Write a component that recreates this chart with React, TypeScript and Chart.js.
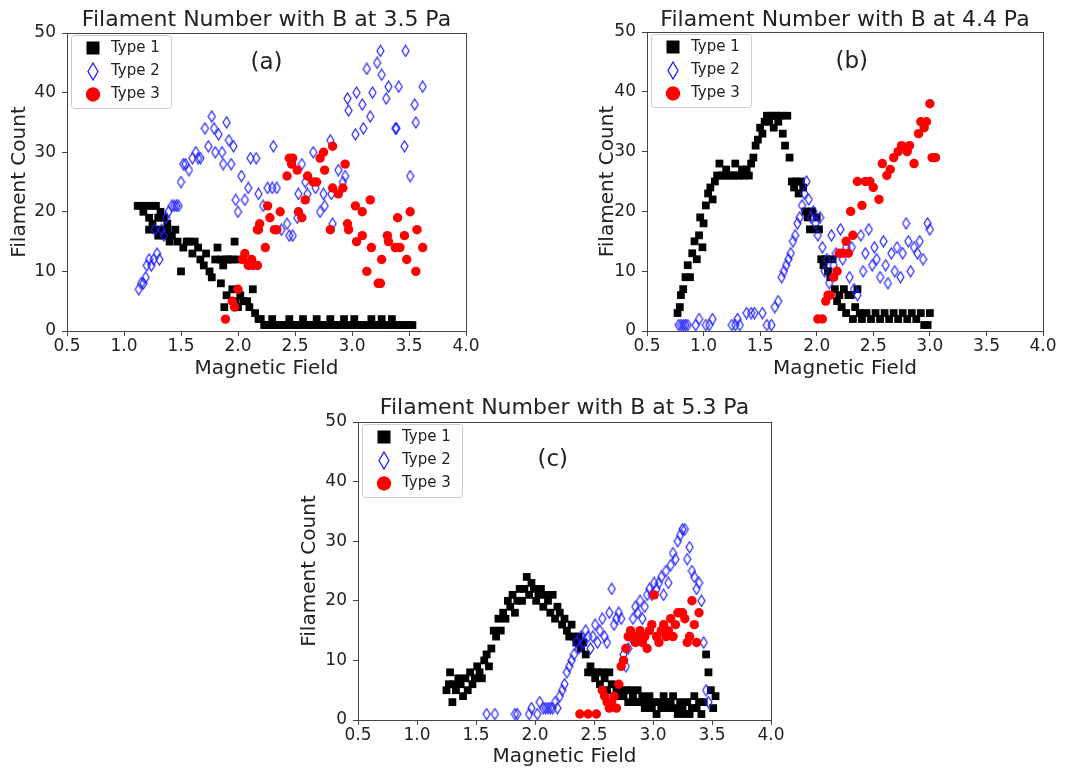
import React, { useEffect, useRef } from 'react';
import { Chart, registerables } from 'chart.js';

Chart.register(...registerables);

type Pt = [number, number];

// Axis ticks shared by the three panels
const xTicks = [0.5, 1.0, 1.5, 2.0, 2.5, 3.0, 3.5, 4.0];
const yTicks = [0, 10, 20, 30, 40, 50];
const seriesNames = ['Type 1', 'Type 2', 'Type 3'];

// Panel (a): B at 3.5 Pa
const type1A: Pt[] = [
  [1.12, 21], [1.15, 21], [1.17, 20], [1.2, 21], [1.22, 19], [1.25, 21], [1.28, 21], [1.3, 19], [1.32, 20], [1.35, 19], [1.38, 18],
  [1.22, 17], [1.25, 18], [1.28, 17], [1.3, 16], [1.33, 17], [1.36, 16], [1.38, 17], [1.4, 15], [1.42, 16], [1.45, 17], [1.47, 15],
  [1.5, 10], [1.52, 14], [1.55, 15], [1.57, 15], [1.6, 13], [1.62, 15], [1.65, 14], [1.67, 12], [1.7, 11], [1.72, 13], [1.75, 10],
  [1.77, 9], [1.8, 12], [1.82, 14], [1.85, 12], [1.87, 11], [1.9, 12], [1.92, 12], [1.95, 12], [1.97, 15], [2.0, 12],
  [1.85, 8], [1.9, 6], [1.88, 4], [1.95, 7], [1.98, 5], [2.0, 4], [2.02, 6], [2.05, 5], [2.08, 5], [2.1, 4], [2.13, 7], [2.15, 3],
  [2.18, 2], [2.2, 2], [2.23, 1],
  [2.25, 1], [2.28, 1], [2.3, 2], [2.33, 1], [2.36, 1], [2.39, 1], [2.42, 1], [2.45, 2], [2.48, 1], [2.51, 1], [2.54, 1], [2.57, 2],
  [2.6, 1], [2.63, 1], [2.66, 1], [2.69, 2], [2.72, 1], [2.75, 1], [2.78, 1], [2.81, 2], [2.84, 1], [2.87, 1], [2.9, 1], [2.93, 2],
  [2.96, 1], [2.99, 1], [3.02, 2], [3.05, 1], [3.08, 1], [3.11, 1], [3.14, 1], [3.17, 2], [3.2, 1], [3.23, 1], [3.26, 2], [3.29, 1],
  [3.32, 1], [3.35, 2], [3.38, 1], [3.41, 1], [3.44, 1], [3.47, 1], [3.5, 1], [3.53, 1],
];
const type2A: Pt[] = [
  [1.13, 7], [1.15, 8], [1.17, 8], [1.19, 9], [1.2, 11], [1.22, 12], [1.24, 11], [1.26, 12], [1.27, 17], [1.29, 13], [1.31, 12],
  [1.33, 17], [1.35, 16], [1.37, 19], [1.39, 20], [1.42, 21], [1.44, 21], [1.46, 21], [1.48, 21],
  [1.5, 25], [1.52, 28], [1.54, 28], [1.57, 27], [1.6, 29], [1.63, 30], [1.65, 29], [1.67, 29], [1.71, 34], [1.74, 31], [1.77, 36],
  [1.79, 34], [1.8, 30], [1.83, 33], [1.86, 30], [1.87, 28], [1.9, 35], [1.92, 32], [1.94, 28], [1.96, 31],
  [1.98, 22], [2.0, 20], [2.03, 26], [2.06, 22], [2.09, 24], [2.11, 29], [2.16, 29], [2.18, 23], [2.22, 21], [2.26, 24], [2.3, 24],
  [2.31, 31], [2.34, 24], [2.38, 17], [2.43, 18], [2.45, 16], [2.48, 16], [2.52, 19], [2.53, 23], [2.56, 28], [2.59, 25], [2.61, 23],
  [2.66, 30], [2.68, 24], [2.72, 20], [2.75, 23], [2.76, 21], [2.81, 32], [2.82, 23], [2.83, 18], [2.88, 27], [2.92, 25], [2.94, 26],
  [2.96, 39], [2.97, 37], [3.03, 33], [3.04, 40], [3.09, 38], [3.1, 34], [3.13, 44], [3.16, 36], [3.18, 40], [3.22, 45], [3.25, 47],
  [3.26, 43], [3.3, 39], [3.32, 41], [3.38, 34], [3.39, 34], [3.41, 41], [3.46, 31], [3.47, 47], [3.51, 26], [3.55, 38], [3.56, 35],
  [3.62, 41],
];
const type3A: Pt[] = [
  [1.89, 2], [1.95, 5], [1.97, 4], [2.0, 7], [2.04, 12], [2.06, 13], [2.09, 11], [2.13, 11], [2.12, 12], [2.17, 11], [2.17, 17],
  [2.18, 17], [2.19, 18], [2.24, 14], [2.26, 21], [2.28, 19], [2.32, 17], [2.34, 17], [2.37, 20], [2.43, 26], [2.45, 29], [2.47, 28],
  [2.48, 29], [2.52, 27], [2.53, 20], [2.56, 19], [2.59, 22], [2.61, 26], [2.66, 25], [2.69, 25], [2.72, 29], [2.75, 30], [2.76, 27],
  [2.81, 17], [2.83, 24], [2.83, 31], [2.88, 23], [2.92, 24], [2.94, 28], [2.96, 18], [2.97, 17], [3.03, 21], [3.04, 15], [3.09, 20],
  [3.09, 16], [3.13, 10], [3.16, 22], [3.17, 14], [3.23, 8], [3.25, 8], [3.26, 12], [3.31, 16], [3.32, 15], [3.38, 14], [3.4, 19],
  [3.42, 14], [3.46, 16], [3.48, 12], [3.51, 20], [3.56, 10], [3.57, 17], [3.62, 14],
];

// Panel (b): B at 4.4 Pa
const type1B: Pt[] = [
  [0.77, 3], [0.79, 4], [0.8, 6], [0.82, 7], [0.84, 9], [0.86, 11], [0.88, 9], [0.9, 13], [0.92, 15], [0.94, 12], [0.96, 16],
  [0.97, 19], [0.99, 14], [1.0, 18], [1.02, 21], [1.04, 23], [1.06, 24], [1.08, 22], [1.1, 25], [1.12, 26], [1.14, 28], [1.16, 26],
  [1.18, 26], [1.2, 27], [1.22, 26], [1.24, 26], [1.26, 26], [1.28, 28], [1.3, 26], [1.32, 26], [1.34, 27], [1.36, 26], [1.38, 27],
  [1.4, 26], [1.42, 28], [1.44, 29], [1.46, 31], [1.48, 32], [1.5, 34], [1.52, 33], [1.54, 35], [1.56, 36], [1.58, 35], [1.6, 36],
  [1.62, 34], [1.64, 36], [1.66, 35], [1.68, 36], [1.7, 33], [1.72, 31], [1.74, 36], [1.76, 29], [1.78, 25], [1.8, 24], [1.82, 25],
  [1.84, 23], [1.86, 25], [1.88, 24], [1.9, 20], [1.92, 19], [1.94, 17], [1.96, 20], [1.98, 17], [2.0, 19], [2.02, 17], [2.04, 12],
  [2.06, 11], [2.08, 12], [2.1, 10], [2.12, 9], [2.14, 12], [2.16, 7], [2.18, 5], [2.2, 6], [2.22, 4], [2.24, 7], [2.26, 3],
  [2.28, 6], [2.3, 6], [2.32, 2], [2.34, 4], [2.36, 7], [2.38, 3], [2.4, 2], [2.44, 3], [2.48, 2], [2.52, 3], [2.56, 2], [2.6, 3],
  [2.64, 2], [2.68, 3], [2.72, 2], [2.76, 3], [2.8, 2], [2.84, 3], [2.88, 2], [2.92, 3], [2.95, 1], [2.98, 1], [3.0, 3],
];
const type2B: Pt[] = [
  [0.78, 1], [0.8, 1], [0.82, 1], [0.84, 1], [0.86, 1], [0.93, 1], [0.96, 2], [1.02, 1], [1.05, 1], [1.08, 2], [1.25, 1], [1.28, 1],
  [1.3, 2], [1.32, 1], [1.38, 3], [1.42, 3], [1.45, 3], [1.52, 3], [1.56, 1], [1.6, 1], [1.63, 4], [1.66, 5], [1.69, 9], [1.71, 10],
  [1.73, 11], [1.75, 12], [1.77, 13], [1.79, 15], [1.81, 16], [1.83, 18], [1.85, 19], [1.87, 21], [1.89, 23], [1.91, 25], [1.93, 22],
  [1.95, 19], [1.97, 20], [1.99, 18], [2.01, 16], [2.03, 19], [2.05, 14], [2.07, 10], [2.09, 12], [2.11, 8], [2.13, 16], [2.15, 11],
  [2.17, 13], [2.21, 17], [2.23, 12], [2.26, 14], [2.29, 9], [2.31, 14], [2.33, 7], [2.36, 6], [2.39, 16], [2.41, 10], [2.43, 13],
  [2.46, 17], [2.49, 11], [2.51, 14], [2.53, 12], [2.56, 9], [2.59, 15], [2.61, 11], [2.63, 8], [2.66, 13], [2.69, 10], [2.71, 14],
  [2.74, 9], [2.76, 13], [2.79, 18], [2.81, 15], [2.83, 10], [2.86, 14], [2.89, 13], [2.91, 15], [2.94, 12], [2.98, 18], [3.0, 17],
];
const type3B: Pt[] = [
  [2.01, 2], [2.05, 2], [2.08, 5], [2.1, 6], [2.12, 6], [2.15, 9], [2.18, 10], [2.2, 13], [2.23, 13], [2.26, 15], [2.28, 13],
  [2.3, 20], [2.32, 16], [2.36, 25], [2.4, 21], [2.43, 25], [2.47, 25], [2.5, 24], [2.55, 22], [2.58, 28], [2.62, 26], [2.65, 27],
  [2.68, 29], [2.72, 30], [2.75, 31], [2.8, 30], [2.82, 31], [2.86, 28], [2.9, 33], [2.92, 35], [2.95, 34], [2.97, 35], [3.0, 38],
  [3.02, 29], [3.05, 29],
];

// Panel (c): B at 5.3 Pa
const type1C: Pt[] = [
  [1.25, 5], [1.27, 6], [1.28, 8], [1.3, 3], [1.31, 6], [1.33, 5], [1.35, 7], [1.37, 6], [1.39, 4], [1.41, 7], [1.43, 5], [1.45, 8],
  [1.47, 6], [1.49, 7], [1.51, 9], [1.53, 8], [1.55, 7], [1.57, 10], [1.59, 11], [1.61, 9], [1.63, 12], [1.65, 15], [1.67, 14],
  [1.69, 17], [1.71, 15], [1.73, 18], [1.75, 17], [1.77, 20], [1.79, 19], [1.81, 21], [1.83, 18], [1.85, 20], [1.87, 22], [1.89, 20],
  [1.91, 22], [1.93, 24], [1.95, 21], [1.97, 23], [1.99, 22], [2.01, 20], [2.03, 21], [2.05, 22], [2.07, 19], [2.09, 21], [2.11, 20],
  [2.13, 18], [2.15, 21], [2.17, 17], [2.19, 19], [2.21, 18], [2.23, 16], [2.25, 17], [2.27, 15], [2.29, 14], [2.31, 16], [2.33, 14],
  [2.35, 13], [2.37, 14], [2.39, 12], [2.41, 13], [2.43, 11], [2.45, 8], [2.47, 9], [2.49, 8], [2.51, 7], [2.53, 8], [2.55, 6],
  [2.57, 8], [2.59, 7], [2.61, 5], [2.63, 8], [2.65, 6], [2.67, 4], [2.69, 5], [2.71, 4], [2.73, 5], [2.75, 4], [2.77, 5], [2.79, 3],
  [2.81, 5], [2.83, 4], [2.85, 3], [2.87, 5], [2.89, 3], [2.91, 4], [2.93, 2], [2.95, 3], [2.97, 4], [2.99, 2], [3.01, 3], [3.03, 1],
  [3.05, 3], [3.07, 2], [3.09, 4], [3.11, 3], [3.13, 2], [3.15, 3], [3.17, 4], [3.19, 2], [3.21, 1], [3.23, 3], [3.25, 2], [3.27, 1],
  [3.29, 3], [3.31, 1], [3.33, 2], [3.35, 4], [3.37, 2], [3.39, 3], [3.41, 1], [3.43, 3], [3.45, 11], [3.47, 8], [3.49, 5], [3.51, 2],
  [3.53, 4],
];
const type2C: Pt[] = [
  [1.59, 1], [1.66, 1], [1.83, 1], [1.85, 1], [1.95, 1], [1.97, 2], [2.02, 1], [2.04, 3], [2.07, 2], [2.09, 2], [2.11, 2], [2.13, 2],
  [2.15, 2], [2.17, 3], [2.19, 2], [2.21, 4], [2.23, 5], [2.25, 6], [2.27, 8], [2.29, 9], [2.31, 10], [2.33, 11], [2.35, 13],
  [2.37, 12], [2.39, 14], [2.41, 13], [2.43, 15], [2.45, 14], [2.47, 12], [2.49, 14], [2.51, 16], [2.53, 13], [2.55, 15], [2.57, 17],
  [2.59, 14], [2.61, 13], [2.63, 18], [2.65, 22], [2.67, 16], [2.69, 17], [2.71, 18], [2.73, 17], [2.75, 11], [2.77, 9], [2.79, 12],
  [2.81, 14], [2.83, 17], [2.85, 19], [2.87, 18], [2.89, 20], [2.91, 17], [2.93, 19], [2.95, 21], [2.97, 22], [2.99, 21], [3.01, 23],
  [3.03, 22], [3.05, 23], [3.07, 24], [3.09, 21], [3.11, 25], [3.13, 23], [3.15, 26], [3.17, 28], [3.19, 27], [3.21, 30], [3.23, 31],
  [3.25, 32], [3.27, 32], [3.29, 27], [3.31, 29], [3.33, 25], [3.35, 24], [3.37, 22], [3.39, 23], [3.41, 20], [3.43, 13], [3.45, 5],
  [3.47, 3],
];
const type3C: Pt[] = [
  [2.38, 1], [2.45, 1], [2.52, 1], [2.57, 5], [2.59, 4], [2.61, 3], [2.63, 2], [2.65, 3], [2.67, 4], [2.69, 2], [2.71, 6], [2.73, 9],
  [2.75, 10], [2.77, 12], [2.79, 14], [2.81, 15], [2.83, 14], [2.85, 13], [2.87, 14], [2.89, 15], [2.91, 13], [2.93, 14], [2.95, 12],
  [2.97, 15], [2.99, 16], [3.01, 21], [3.03, 14], [3.05, 13], [3.07, 15], [3.09, 16], [3.11, 14], [3.13, 15], [3.15, 17], [3.17, 14],
  [3.19, 16], [3.21, 18], [3.23, 18], [3.25, 18], [3.27, 17], [3.29, 13], [3.31, 14], [3.33, 20], [3.35, 16], [3.37, 13], [3.39, 18],
];

const FONT = "'DejaVu Sans', 'Liberation Sans', sans-serif";
const INK = '#222222';
const FRAME = '#444444';
const BLACK = '#000000';
const BLUE = '#1f1fff';
const RED = '#ff0000';

interface PanelSpec {
  title: string;
  tag: string;
  tagAt: Pt;
  box: { left: number; top: number; width: number; height: number };
  area: { l: number; t: number; r: number; b: number };
  titlePad: { top: number; bottom: number };
  yTitlePad: number;
  xTitlePad: number;
  series: Pt[][];
}

const panels: PanelSpec[] = [
  {
    title: 'Filament Number with B at 3.5 Pa',
    tag: '(a)',
    tagAt: [2.25, 45],
    box: { left: 0, top: 0, width: 540, height: 392 },
    area: { l: 67, t: 33, r: 466, b: 331 },
    titlePad: { top: 9.5, bottom: 1.5 },
    yTitlePad: 8,
    xTitlePad: 11,
    series: [type1A, type2A, type3A],
  },
  {
    title: 'Filament Number with B at 4.4 Pa',
    tag: '(b)',
    tagAt: [2.31, 45],
    box: { left: 560, top: 0, width: 523, height: 392 },
    area: { l: 647, t: 32, r: 1043, b: 331 },
    titlePad: { top: 9, bottom: 1 },
    yTitlePad: 36,
    xTitlePad: 11,
    series: [type1B, type2B, type3B],
  },
  {
    title: 'Filament Number with B at 5.3 Pa',
    tag: '(c)',
    tagAt: [2.15, 43.6],
    box: { left: 280, top: 390, width: 540, height: 381 },
    area: { l: 358, t: 422, r: 771, b: 720 },
    titlePad: { top: 7, bottom: 3 },
    yTitlePad: 18,
    xTitlePad: 2,
    series: [type1C, type2C, type3C],
  },
];

// Thin open diamond used as the Type 2 marker
function diamondSprite(w: number, h: number, color: string, lw: number): HTMLCanvasElement {
  const c = document.createElement('canvas');
  c.width = w + 2;
  c.height = h + 2;
  const g = c.getContext('2d')!;
  g.strokeStyle = color;
  g.lineWidth = lw;
  g.beginPath();
  g.moveTo(c.width / 2, 1);
  g.lineTo(c.width - 1, c.height / 2);
  g.lineTo(c.width / 2, c.height - 1);
  g.lineTo(1, c.height / 2);
  g.closePath();
  g.stroke();
  return c;
}

function drawLegendMarker(ctx: CanvasRenderingContext2D, kind: number, x: number, y: number) {
  ctx.save();
  if (kind === 0) {
    ctx.fillStyle = BLACK;
    ctx.fillRect(x - 6.5, y - 6.5, 13, 13);
  } else if (kind === 1) {
    ctx.strokeStyle = BLUE;
    ctx.lineWidth = 1.3;
    ctx.beginPath();
    ctx.moveTo(x, y - 8.5);
    ctx.lineTo(x + 5, y);
    ctx.lineTo(x, y + 8.5);
    ctx.lineTo(x - 5, y);
    ctx.closePath();
    ctx.stroke();
  } else {
    ctx.fillStyle = RED;
    ctx.beginPath();
    ctx.arc(x, y, 7.2, 0, Math.PI * 2);
    ctx.fill();
  }
  ctx.restore();
}

function Panel({ spec }: { spec: PanelSpec }) {
  const ref = useRef<HTMLCanvasElement>(null);

  useEffect(() => {
    const canvas = ref.current;
    if (!canvas) return;
    const { box, area } = spec;
    const diamond = diamondSprite(7, 11, BLUE, 1.2);

    const overlay = {
      id: 'panelOverlay',
      afterDatasetsDraw(chart: Chart) {
        const { ctx, chartArea } = chart;
        const L = chartArea.left;
        const T = chartArea.top;
        ctx.save();
        // frame on all four sides
        ctx.strokeStyle = FRAME;
        ctx.lineWidth = 1;
        ctx.strokeRect(
          Math.round(chartArea.left) + 0.5,
          Math.round(chartArea.top) + 0.5,
          Math.round(chartArea.right - chartArea.left),
          Math.round(chartArea.bottom - chartArea.top)
        );

        // panel tag
        const xs = chart.scales.x;
        const ys = chart.scales.y;
        ctx.fillStyle = INK;
        ctx.font = `23px ${FONT}`;
        ctx.textAlign = 'center';
        ctx.textBaseline = 'middle';
        ctx.fillText(spec.tag, xs.getPixelForValue(spec.tagAt[0]), ys.getPixelForValue(spec.tagAt[1]));

        // legend
        const bx = L + 4;
        const by = T + 2;
        const bw = 100;
        const bh = 73;
        ctx.beginPath();
        ctx.roundRect(bx + 0.5, by + 0.5, bw, bh, 3);
        ctx.fillStyle = 'rgba(255,255,255,0.8)';
        ctx.fill();
        ctx.strokeStyle = '#cccccc';
        ctx.lineWidth = 1;
        ctx.stroke();
        ctx.font = `15px ${FONT}`;
        ctx.textAlign = 'left';
        ctx.textBaseline = 'middle';
        const rows = [15, 38.5, 61.5];
        seriesNames.forEach((name, i) => {
          drawLegendMarker(ctx, i, L + 26, T + rows[i]);
          ctx.fillStyle = INK;
          ctx.fillText(name, L + 44, T + rows[i]);
        });
        ctx.restore();
      },
    };

    const tickFont = { family: FONT, size: 17, lineHeight: 1 };
    const labelFont = { family: FONT, size: 20, lineHeight: 1.2 };

    const chart = new Chart(canvas, {
      type: 'scatter',
      data: {
        datasets: [
          {
            label: seriesNames[0],
            data: spec.series[0].map(([x, y]) => ({ x, y })),
            pointStyle: 'rect',
            pointRadius: 5.5,
            backgroundColor: BLACK,
            borderWidth: 0,
            order: 3,
          },
          {
            label: seriesNames[1],
            data: spec.series[1].map(([x, y]) => ({ x, y })),
            pointStyle: diamond,
            pointRadius: 5,
            backgroundColor: 'transparent',
            borderColor: BLUE,
            borderWidth: 0,
            order: 2,
          },
          {
            label: seriesNames[2],
            data: spec.series[2].map(([x, y]) => ({ x, y })),
            pointStyle: 'circle',
            pointRadius: 4.7,
            backgroundColor: RED,
            borderWidth: 0,
            order: 1,
          },
        ],
      },
      options: {
        responsive: false,
        animation: false,
        events: [],
        layout: {
          padding: { left: 0, top: 0, bottom: 0, right: box.left + box.width - area.r },
        },
        plugins: {
          legend: { display: false },
          tooltip: { enabled: false },
          title: {
            display: true,
            text: spec.title,
            fullSize: false,
            color: INK,
            font: { family: FONT, size: 22, weight: 'normal', lineHeight: 1 },
            padding: spec.titlePad,
          },
        },
        scales: {
          x: {
            type: 'linear',
            min: xTicks[0],
            max: xTicks[xTicks.length - 1],
            afterBuildTicks: (s: any) => {
              s.ticks = xTicks.map((value) => ({ value }));
            },
            afterFit: (s: any) => {
              s.height = box.top + box.height - area.b;
            },
            ticks: {
              color: INK,
              font: tickFont,
              padding: 2,
              maxRotation: 0,
              autoSkip: false,
              callback: (v: any) => Number(v).toFixed(1),
            },
            grid: { drawOnChartArea: false, drawTicks: true, tickLength: 5, color: FRAME },
            border: { display: true, color: FRAME },
            title: {
              display: true,
              text: 'Magnetic Field',
              color: INK,
              font: labelFont,
              padding: { top: 0, bottom: spec.xTitlePad },
            },
          },
          y: {
            type: 'linear',
            min: yTicks[0],
            max: yTicks[yTicks.length - 1],
            afterBuildTicks: (s: any) => {
              s.ticks = yTicks.map((value) => ({ value }));
            },
            afterFit: (s: any) => {
              s.width = area.l - box.left;
            },
            ticks: {
              color: INK,
              font: tickFont,
              padding: 6,
              autoSkip: false,
              callback: (v: any) => String(v),
            },
            grid: { drawOnChartArea: false, drawTicks: true, tickLength: 5, color: FRAME },
            border: { display: true, color: FRAME },
            title: {
              display: true,
              text: 'Filament Count',
              color: INK,
              font: labelFont,
              padding: { top: spec.yTitlePad, bottom: 0 },
            },
          },
        },
      },
      plugins: [overlay],
    } as any);

    return () => chart.destroy();
  }, [spec]);

  return (
    <canvas
      ref={ref}
      width={spec.box.width}
      height={spec.box.height}
      style={{
        position: 'absolute',
        left: spec.box.left,
        top: spec.box.top,
        width: spec.box.width,
        height: spec.box.height,
      }}
    />
  );
}

export default function App() {
  return (
    <div
      style={{
        position: 'absolute',
        left: 0,
        top: 0,
        width: 1083,
        height: 771,
        background: '#ffffff',
        overflow: 'hidden',
      }}
    >
      {panels.map((p) => (
        <Panel key={p.tag} spec={p} />
      ))}
    </div>
  );
}
